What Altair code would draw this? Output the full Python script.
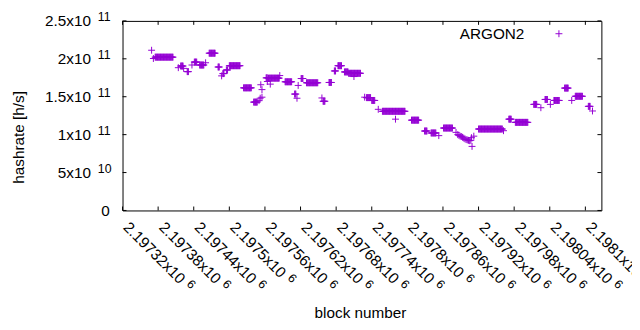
import altair as alt
import pandas as pd

# ---- data ----------------------------------------------------------------
# runs of consecutive blocks reported at (practically) one hashrate [h/s]
run_start = [2197375, 2197418, 2197429, 2197441, 2197450, 2197466, 2197481, 2197489,
             2197495, 2197500, 2197524, 2197541, 2197562, 2197566, 2197594, 2197610,
             2197621, 2197630, 2197658, 2197668, 2197677, 2197683, 2197694, 2197701,
             2197731, 2197740, 2197758, 2197807, 2197829, 2197840, 2197861, 2197920,
             2197971, 2197982, 2198013, 2198032, 2198047, 2198065, 2198083, 2198105]
run_end = [2197405, 2197422, 2197431, 2197445, 2197457, 2197476, 2197483, 2197491,
           2197497, 2197518, 2197537, 2197547, 2197564, 2197584, 2197605, 2197612,
           2197624, 2197649, 2197661, 2197672, 2197679, 2197689, 2197700, 2197721,
           2197738, 2197745, 2197796, 2197819, 2197833, 2197848, 2197876, 2197960,
           2197975, 2198003, 2198018, 2198036, 2198056, 2198071, 2198095, 2198108]
run_hashrate = [2.022e11, 1.905e11, 1.831e11, 1.957e11, 1.918e11, 2.074e11, 1.892e11, 1.805e11,
                1.853e11, 1.909e11, 1.617e11, 1.429e11, 1.749e11, 1.745e11, 1.697e11, 1.535e11,
                1.740e11, 1.684e11, 1.440e11, 1.688e11, 1.840e11, 1.909e11, 1.827e11, 1.809e11,
                1.488e11, 1.451e11, 1.308e11, 1.191e11, 1.048e11, 1.022e11, 1.087e11, 1.074e11,
                1.204e11, 1.162e11, 1.399e11, 1.464e11, 1.451e11, 1.614e11, 1.506e11, 1.373e11]

# isolated blocks
single_block = [2197369, 2197372, 2197414, 2197423, 2197437, 2197460, 2197487, 2197550,
                2197552, 2197553, 2197555, 2197555, 2197564, 2197569, 2197585, 2197614,
                2197616, 2197656, 2197710, 2197728, 2197751, 2197780, 2197853, 2197882,
                2197885, 2197887, 2197889, 2197891, 2197893, 2197895, 2197897, 2197899,
                2197901, 2197903, 2197905, 2197907, 2197908, 2197909, 2197912, 2197962,
                2198025, 2198041, 2198077, 2198112]
single_hashrate = [2.113e11, 2.004e11, 1.883e11, 1.874e11, 1.918e11, 1.948e11, 1.775e11, 1.448e11,
                   1.481e11, 1.658e11, 1.594e11, 1.494e11, 1.701e11, 1.666e11, 1.779e11, 1.480e11,
                   1.649e11, 1.484e11, 1.766e11, 1.494e11, 1.334e11, 1.204e11, 0.987e11, 1.030e11,
                   1.000e11, 0.990e11, 0.980e11, 0.975e11, 0.965e11, 0.955e11, 0.945e11, 0.935e11,
                   0.930e11, 0.925e11, 0.920e11, 0.925e11, 0.960e11, 0.845e11, 0.980e11, 1.052e11,
                   1.355e11, 1.399e11, 1.451e11, 1.312e11]

x_ticks = [2197320, 2197380, 2197440, 2197500, 2197560, 2197620, 2197680,
           2197740, 2197800, 2197860, 2197920, 2197980, 2198040, 2198100]
x_mant = ["2.19732x10", "2.19738x10", "2.19744x10", "2.1975x10", "2.19756x10",
          "2.19762x10", "2.19768x10", "2.19774x10", "2.1978x10", "2.19786x10",
          "2.19792x10", "2.19798x10", "2.19804x10", "2.1981x10"]
x_exp = ["6"] * len(x_ticks)

y_ticks = [0, 5e10, 1e11, 1.5e11, 2e11, 2.5e11]
y_mant = ["0", "5x10", "1x10", "1.5x10", "2x10", "2.5x10"]
y_exp = ["", "10", "11", "11", "11", "11"]

series_name = "ARGON2"

# ---- tables --------------------------------------------------------------
rows = []
for s, e, v in zip(run_start, run_end, run_hashrate):
    for b in range(s, e + 1):
        rows.append({"block": b, "hashrate": v})
for b, v in zip(single_block, single_hashrate):
    rows.append({"block": b, "hashrate": v})
df = pd.DataFrame(rows)

xt = pd.DataFrame({"v": x_ticks, "m": x_mant, "e": x_exp})
xt["long"] = xt["m"].str.len() > 9
yt = pd.DataFrame({"v": y_ticks, "m": y_mant, "e": y_exp})

W, H = 485, 192
FONT = "Liberation Sans"
FS, FE = 15.5, 12.5
COLOR = "#9400d3"
PLUS = "M-1,0L1,0M0,-1L0,1"

xs = alt.Scale(domain=[2197320, 2198127], nice=False, zero=False)
ys = alt.Scale(domain=[0, 2.5e11], nice=False, zero=False)
X = alt.X("v:Q", scale=xs, axis=None)
Y = alt.Y("v:Q", scale=ys, axis=None)

points = alt.Chart(df).mark_point(
    shape=PLUS, size=49, filled=False, stroke=COLOR, strokeWidth=1, opacity=1
).encode(
    x=alt.X("block:Q", scale=xs, axis=None),
    y=alt.Y("hashrate:Q", scale=ys, axis=None),
)

tick_style = dict(color="black", strokeWidth=1)
xb = alt.Chart(xt).mark_rule(**tick_style).encode(x=X, y=alt.value(H), y2=alt.value(H - 4))
xtop = alt.Chart(xt).mark_rule(**tick_style).encode(x=X, y=alt.value(0), y2=alt.value(4))
yl = alt.Chart(yt).mark_rule(**tick_style).encode(y=Y, x=alt.value(0), x2=alt.value(4))
yr = alt.Chart(yt).mark_rule(**tick_style).encode(y=Y, x=alt.value(W - 4), x2=alt.value(W))

txt = dict(font=FONT, color="black")
xlab = alt.Chart(xt).mark_text(angle=45, align="left", baseline="alphabetic", fontSize=FS, **txt).encode(
    x=X, y=alt.value(H + 18), text="m:N")
xexp_long = alt.Chart(xt).transform_filter("datum.long").mark_text(
    angle=45, align="left", baseline="alphabetic", fontSize=FE, dx=86, dy=-5, **txt
).encode(x=X, y=alt.value(H + 18), text="e:N")
xexp_short = alt.Chart(xt).transform_filter("!datum.long").mark_text(
    angle=45, align="left", baseline="alphabetic", fontSize=FE, dx=77.5, dy=-5, **txt
).encode(x=X, y=alt.value(H + 18), text="e:N")

ylab = alt.Chart(yt).transform_filter("datum.e != ''").mark_text(
    align="right", baseline="alphabetic", fontSize=FS, dy=5.5, **txt
).encode(y=Y, x=alt.value(-32), text="m:N")
yexp = alt.Chart(yt).transform_filter("datum.e != ''").mark_text(
    align="left", baseline="alphabetic", fontSize=FE, dy=0.5, **txt
).encode(y=Y, x=alt.value(-25), text="e:N")
yzero = alt.Chart(yt).transform_filter("datum.e == ''").mark_text(
    align="right", baseline="alphabetic", fontSize=FS, dy=5.5, **txt
).encode(y=Y, x=alt.value(-13), text="m:N")

titles = pd.DataFrame({"t": ["hashrate [h/s]", "block number", series_name]})
ytitle = alt.Chart(titles).transform_filter("datum.t == 'hashrate [h/s]'").mark_text(
    angle=270, align="center", baseline="middle", fontSize=FS, **txt
).encode(x=alt.value(-105), y=alt.value(118), text="t:N")
xtitle = alt.Chart(titles).transform_filter("datum.t == 'block number'").mark_text(
    align="center", baseline="middle", fontSize=FS, **txt
).encode(x=alt.value(241), y=alt.value(296), text="t:N")
legtext = alt.Chart(titles).transform_filter(f"datum.t == '{series_name}'").mark_text(
    align="right", baseline="alphabetic", fontSize=FS, **txt
).encode(x=alt.value(407), y=alt.value(18.7), text="t:N")
legmark = alt.Chart(titles).transform_filter(f"datum.t == '{series_name}'").mark_point(
    shape=PLUS, size=49, filled=False, stroke=COLOR, strokeWidth=1, opacity=1
).encode(x=alt.value(442), y=alt.value(13))

chart = alt.layer(
    points, xb, xtop, yl, yr, xlab, xexp_long, xexp_short, ylab, yexp, yzero,
    ytitle, xtitle, legtext, legmark
).properties(
    width=W, height=H,
    autosize=alt.AutoSizeParams(type="none"),
    padding={"left": 116, "top": 11, "right": 31, "bottom": 119},
    background="white",
).configure_view(stroke="black", strokeWidth=1)

chart.save("out.html", embed_options={"renderer": "svg", "actions": False})
